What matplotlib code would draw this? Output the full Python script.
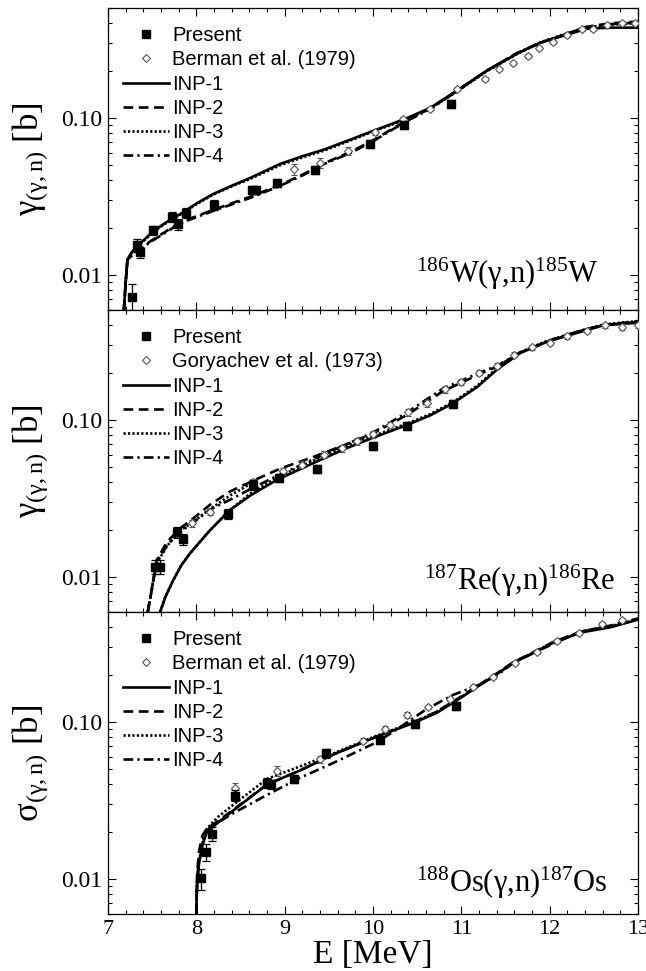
import matplotlib
matplotlib.use("Agg")
import matplotlib.pyplot as plt
from matplotlib.ticker import FixedLocator, FixedFormatter, MultipleLocator, LogLocator, NullFormatter

plt.rcParams['font.family'] = ['Liberation Serif', 'DejaVu Serif']
plt.rcParams['mathtext.fontset'] = 'custom'
plt.rcParams['mathtext.rm'] = 'Liberation Serif'
plt.rcParams['mathtext.it'] = 'Liberation Serif:italic'
plt.rcParams['lines.scale_dashes'] = False

# ---------------- 186W ----------------
W_E_inp1 = [7.18, 7.20, 7.22, 7.27, 7.33, 7.42, 7.51, 7.65, 7.82, 8.0, 8.19, 8.4, 8.61, 8.95, 9.2, 9.45,
            9.75, 10.0, 10.2, 10.39, 10.65, 10.95, 11.29, 11.63, 11.89, 12.23, 12.42, 12.69, 13.0]
W_inp1 = [0.006, 0.009, 0.0126, 0.014, 0.0153, 0.017, 0.019, 0.0215, 0.0245, 0.0285, 0.0328, 0.037, 0.0415,
          0.051, 0.057, 0.063, 0.073, 0.0826, 0.091, 0.10, 0.116, 0.149, 0.20, 0.256, 0.30, 0.343, 0.369, 0.375, 0.375]
W_inp3 = [0.006, 0.009, 0.0125, 0.0139, 0.0152, 0.0168, 0.0188, 0.0213, 0.0243, 0.0282, 0.0325, 0.0367, 0.041,
          0.050, 0.056, 0.062, 0.072, 0.082, 0.090, 0.099, 0.115, 0.147, 0.198, 0.255, 0.302, 0.35, 0.378, 0.392, 0.40]
W_E_inp4 = [7.18, 7.20, 7.22, 7.27, 7.33, 7.5, 7.82, 8.19, 8.61, 8.95, 9.2, 9.45, 9.75, 10.0, 10.2, 10.39,
            10.65, 10.95, 11.29, 11.63, 11.89, 12.23, 12.42, 12.69, 13.0]
W_inp4 = [0.006, 0.009, 0.0124, 0.0133, 0.0142, 0.0165, 0.0214, 0.0256, 0.031, 0.037, 0.043, 0.051, 0.060,
          0.071, 0.083, 0.096, 0.114, 0.148, 0.20, 0.258, 0.30, 0.345, 0.375, 0.395, 0.405]
W_inp2 = [0.006, 0.009, 0.0125, 0.0134, 0.0144, 0.0167, 0.0217, 0.026, 0.0315, 0.0375, 0.0435, 0.0515, 0.061,
          0.072, 0.084, 0.097, 0.115, 0.149, 0.20, 0.258, 0.30, 0.348, 0.38, 0.40, 0.41]
W_E_pres = [7.27, 7.33, 7.36, 7.51, 7.72, 7.79, 7.88, 8.2, 8.63, 8.67, 8.91, 9.34, 9.97, 10.35, 10.88]
W_pres = [0.0073, 0.0155, 0.014, 0.0193, 0.0234, 0.021, 0.0248, 0.028, 0.035, 0.035, 0.0385, 0.0466,
          0.068, 0.090, 0.123]
W_pres_relerr = [0.2, 0.1, 0.08, 0.07, 0.07, 0.08, 0.07, 0.07, 0.06, 0.06, 0.06, 0.06, 0.06, 0.06, 0.06]
W_E_ref = [9.1, 9.40, 9.72, 10.02, 10.34, 10.65, 10.95, 11.27, 11.43, 11.59, 11.75, 11.88, 12.04, 12.2,
           12.37, 12.49, 12.65, 12.82, 12.97]
W_ref = [0.047, 0.052, 0.062, 0.081, 0.098, 0.114, 0.153, 0.177, 0.205, 0.224, 0.248, 0.279, 0.305, 0.337,
         0.37, 0.37, 0.39, 0.40, 0.40]
W_ref_relerr = [0.08, 0.07, 0.06, 0.04, 0.04, 0.03, 0.03, 0.03, 0.03, 0.03, 0.03, 0.03, 0.03, 0.03,
                0.03, 0.03, 0.03, 0.03, 0.03]

# ---------------- 187Re ----------------
Re_E_inp1 = [7.59, 7.65, 7.74, 7.83, 7.93, 8.05, 8.16, 8.38, 8.61, 8.91, 9.32, 9.7, 10.0, 10.39, 10.65,
             10.91, 11.18, 11.40, 11.67, 11.97, 12.35, 12.61, 13.0]
Re_inp1 = [0.006, 0.0075, 0.0096, 0.0119, 0.0142, 0.017, 0.020, 0.0267, 0.033, 0.0415, 0.053, 0.066, 0.077,
           0.093, 0.107, 0.128, 0.162, 0.208, 0.267, 0.314, 0.363, 0.40, 0.415]
Re_inp3 = [0.006, 0.0075, 0.0096, 0.0119, 0.0142, 0.017, 0.020, 0.0267, 0.034, 0.043, 0.055, 0.068, 0.079,
           0.095, 0.109, 0.130, 0.165, 0.212, 0.27, 0.318, 0.368, 0.405, 0.425]
Re_E_inp4 = [7.45, 7.50, 7.55, 7.67, 7.82, 7.93, 8.16, 8.38, 8.64, 8.95, 9.32, 9.7, 10.0, 10.39, 10.79,
             11.21, 11.40, 11.67, 12.0, 12.35, 12.61, 13.0]
Re_inp4 = [0.006, 0.0087, 0.0125, 0.016, 0.0195, 0.0215, 0.027, 0.031, 0.037, 0.045, 0.056, 0.070, 0.083,
           0.112, 0.158, 0.20, 0.22, 0.27, 0.32, 0.37, 0.40, 0.42]
Re_inp2 = [0.006, 0.0087, 0.0128, 0.0168, 0.0205, 0.0228, 0.029, 0.035, 0.041, 0.049, 0.058, 0.070, 0.082,
           0.108, 0.152, 0.196, 0.218, 0.268, 0.318, 0.368, 0.40, 0.425]
Re_E_inp3lo = [7.45, 7.50, 7.55, 7.67, 7.82, 7.93, 8.16, 8.38, 8.64]
Re_inp3lo = [0.006, 0.0085, 0.0122, 0.0158, 0.0198, 0.0218, 0.0272, 0.033, 0.040]
Re_E_pres = [7.53, 7.59, 7.78, 7.85, 8.36, 8.64, 8.94, 9.37, 10.0, 10.39, 10.91]
Re_pres = [0.0116, 0.0116, 0.0194, 0.0175, 0.0252, 0.0386, 0.0428, 0.0490, 0.068, 0.092, 0.126]
Re_pres_relerr = [0.1, 0.1, 0.08, 0.08, 0.07, 0.07, 0.06, 0.06, 0.06, 0.06, 0.06]
Re_E_ref = [7.95, 8.15, 8.64, 8.98, 9.2, 9.45, 9.65, 9.82, 10.0, 10.19, 10.4, 10.61, 10.82, 11.0, 11.2,
            11.4, 11.6, 11.8, 12.0, 12.2, 12.42, 12.63, 12.82, 13.0]
Re_ref = [0.022, 0.026, 0.040, 0.047, 0.052, 0.060, 0.066, 0.073, 0.081, 0.093, 0.112, 0.128, 0.157, 0.174,
          0.20, 0.22, 0.26, 0.29, 0.31, 0.34, 0.37, 0.40, 0.39, 0.40]
Re_ref_relerr = [0.05, 0.05, 0.05, 0.05, 0.05, 0.05, 0.05, 0.05, 0.05, 0.05, 0.05, 0.05,
                 0.05, 0.04, 0.04, 0.04, 0.04, 0.04, 0.04, 0.04, 0.04, 0.04, 0.04, 0.04]

# ---------------- 188Os ----------------
Os_E_inp1 = [8.0, 8.005, 8.01, 8.03, 8.07, 8.12, 8.25, 8.46, 8.80, 9.17, 9.55, 10.05, 10.45, 10.72, 10.99,
             11.18, 11.36, 11.59, 11.82, 12.04, 12.35, 12.69, 13.0]
Os_inp1 = [0.006, 0.008, 0.0094, 0.0125, 0.0165, 0.020, 0.023, 0.0285, 0.040, 0.049, 0.062, 0.081, 0.098,
           0.114, 0.142, 0.167, 0.194, 0.238, 0.275, 0.319, 0.37, 0.40, 0.447]
Os_inp2 = [0.006, 0.009, 0.011, 0.015, 0.019, 0.021, 0.0235, 0.0288, 0.040, 0.049, 0.062, 0.081, 0.099,
           0.116, 0.144, 0.169, 0.196, 0.240, 0.278, 0.322, 0.375, 0.41, 0.455]
Os_inp3 = [0.006, 0.0085, 0.0098, 0.013, 0.017, 0.021, 0.025, 0.031, 0.0434, 0.052, 0.063, 0.082, 0.099,
           0.116, 0.143, 0.168, 0.195, 0.239, 0.277, 0.321, 0.373, 0.405, 0.45]
Os_E_inp4 = [8.0, 8.005, 8.01, 8.03, 8.07, 8.12, 8.25, 8.42, 8.8, 9.17, 9.55, 10.05, 10.3, 10.6, 10.9, 11.2,
             11.4, 11.6, 11.85, 12.1, 12.35, 12.7, 13.0]
Os_inp4 = [0.006, 0.008, 0.010, 0.0135, 0.0175, 0.0205, 0.023, 0.0263, 0.0343, 0.044, 0.0548, 0.0746, 0.092,
           0.120, 0.148, 0.172, 0.197, 0.24, 0.28, 0.325, 0.375, 0.41, 0.455]
Os_E_pres = [8.05, 8.11, 8.18, 8.44, 8.80, 8.84, 9.10, 9.47, 10.08, 10.47, 10.94]
Os_pres = [0.0101, 0.0149, 0.0194, 0.0340, 0.041, 0.040, 0.0433, 0.063, 0.077, 0.097, 0.126]
Os_pres_relerr = [0.15, 0.12, 0.1, 0.08, 0.07, 0.07, 0.06, 0.06, 0.06, 0.06, 0.06]
Os_E_ref = [8.44, 8.91, 9.40, 9.89, 10.14, 10.39, 10.62, 10.87, 11.13, 11.36, 11.61, 11.86, 12.08, 12.33,
            12.59, 12.82]
Os_ref = [0.038, 0.049, 0.058, 0.076, 0.090, 0.111, 0.125, 0.14, 0.167, 0.194, 0.238, 0.279, 0.327, 0.37,
          0.42, 0.447]
Os_ref_relerr = [0.08, 0.07, 0.05, 0.04, 0.04, 0.04, 0.03, 0.03, 0.03, 0.03, 0.03, 0.03, 0.03, 0.03,
                 0.03, 0.03]

panels = [
    dict(E1=W_E_inp1, y1=W_inp1, E2=W_E_inp4, y2=W_inp2, E3=W_E_inp1, y3=W_inp3, E4=W_E_inp4, y4=W_inp4,
         Ep=W_E_pres, yp=W_pres, ep=W_pres_relerr, Er=W_E_ref, yr=W_ref, er=W_ref_relerr,
         ref_label='Berman et al. (1979)', ylabel=r'$\mathrm{γ_{(γ,n)}}$ [b]',
         tag=r'$^{186}$W(γ,n)$^{185}$W', tagx=0.925, tagy=0.09),
    dict(E1=Re_E_inp1, y1=Re_inp1, E2=Re_E_inp4, y2=Re_inp2, E3=Re_E_inp1, y3=Re_inp3, E4=Re_E_inp4, y4=Re_inp4,
         Ep=Re_E_pres, yp=Re_pres, ep=Re_pres_relerr, Er=Re_E_ref, yr=Re_ref, er=Re_ref_relerr,
         ref_label='Goryachev et al. (1973)', ylabel=r'$\mathrm{γ_{(γ,n)}}$ [b]',
         tag=r'$^{187}$Re(γ,n)$^{186}$Re', tagx=0.957, tagy=0.073),
    dict(E1=Os_E_inp1, y1=Os_inp1, E2=Os_E_inp1, y2=Os_inp2, E3=Os_E_inp1, y3=Os_inp3, E4=Os_E_inp4, y4=Os_inp4,
         Ep=Os_E_pres, yp=Os_pres, ep=Os_pres_relerr, Er=Os_E_ref, yr=Os_ref, er=Os_ref_relerr,
         ref_label='Berman et al. (1979)', ylabel=r'$\mathrm{σ_{(γ,n)}}$ [b]',
         tag=r'$^{188}$Os(γ,n)$^{187}$Os', tagx=0.943, tagy=0.073),
]

fig = plt.figure(figsize=(6.46, 9.71), dpi=100)
W_px, H_px = 646.0, 971.0
left, right = 108 / W_px, 638 / W_px
tops = [8, 310, 612]
height = 302 / H_px

lw = 1.9
axes = []
for i, p in enumerate(panels):
    bottom = 1 - (tops[i] + 302) / H_px
    ax = fig.add_axes([left, bottom, right - left, height], sharex=axes[0] if axes else None)
    axes.append(ax)

    ax.plot(p['E1'], p['y1'], color='black', lw=lw, ls='-', label='INP-1', zorder=3)
    ax.plot(p['E2'], p['y2'], color='black', lw=lw, ls=(0, (7, 4)), label='INP-2', zorder=3)
    if i == 1:
        ax.plot(Re_E_inp3lo, Re_inp3lo, color='black', lw=lw, ls=(0, (1.6, 1.6)), zorder=3)
    ax.plot(p['E3'], p['y3'], color='black', lw=lw, ls=(0, (1.6, 1.6)), label='INP-3', zorder=3)
    ax.plot(p['E4'], p['y4'], color='black', lw=lw, ls=(0, (7, 3, 1.6, 3)), label='INP-4', zorder=3)

    yerr_r = [v * e for v, e in zip(p['yr'], p['er'])]
    ax.errorbar(p['Er'], p['yr'], yerr=yerr_r, fmt='none', ecolor='#555555', elinewidth=0.8,
                capsize=2.5, capthick=0.8, zorder=4)
    ax.plot(p['Er'], p['yr'], ls='none', marker='D', ms=3.6, mfc='white', mec='#555555',
            mew=0.8, zorder=5, label=p['ref_label'])
    yerr_p = [v * e for v, e in zip(p['yp'], p['ep'])]
    ax.errorbar(p['Ep'], p['yp'], yerr=yerr_p, fmt='none', ecolor='black', elinewidth=0.9,
                capsize=2.8, capthick=0.9, zorder=6)
    ax.plot(p['Ep'], p['yp'], ls='none', marker='s', ms=6.0, color='black', zorder=7,
            label='Present')

    ax.set_yscale('log')
    ax.set_ylim(0.006, 0.5)
    ax.set_xlim(7, 13)
    ax.yaxis.set_major_locator(FixedLocator([0.01, 0.1]))
    ax.yaxis.set_major_formatter(FixedFormatter(['0.01', '0.10']))
    ax.yaxis.set_minor_locator(LogLocator(base=10, subs=[2, 3, 4, 5, 6, 7, 8, 9]))
    ax.yaxis.set_minor_formatter(NullFormatter())
    ax.xaxis.set_major_locator(MultipleLocator(1))
    ax.xaxis.set_minor_locator(MultipleLocator(0.2))
    ax.tick_params(which='both', direction='in', top=True, right=True, width=0.8)
    ax.tick_params(which='major', length=5.5)
    ax.tick_params(which='minor', length=3)
    ax.tick_params(axis='y', labelsize=17, pad=4)
    ax.tick_params(axis='x', labelsize=16, pad=4)
    for s in ax.spines.values():
        s.set_linewidth(0.9)
    if i < 2:
        ax.tick_params(axis='x', labelbottom=False)

    ax.set_ylabel(p['ylabel'], fontsize=25)
    ax.yaxis.set_label_coords(-0.11, 0.5)

    ax.text(p['tagx'], p['tagy'], p['tag'], transform=ax.transAxes, ha='right', va='baseline',
            fontsize=22)

    handles, labels = ax.get_legend_handles_labels()
    order = ['Present', p['ref_label'], 'INP-1', 'INP-2', 'INP-3', 'INP-4']
    hmap = dict(zip(labels, handles))
    ax.legend([hmap[k] for k in order], order, loc='upper left', bbox_to_anchor=(0.028, 0.94),
              frameon=False, borderpad=0, borderaxespad=0, handlelength=2.3, handletextpad=0.15,
              labelspacing=0.26, prop={'family': 'Liberation Sans', 'size': 14.5})

axes[2].set_xlabel('E [MeV]', fontsize=24, labelpad=1)

fig.savefig('out.png', dpi=100)
